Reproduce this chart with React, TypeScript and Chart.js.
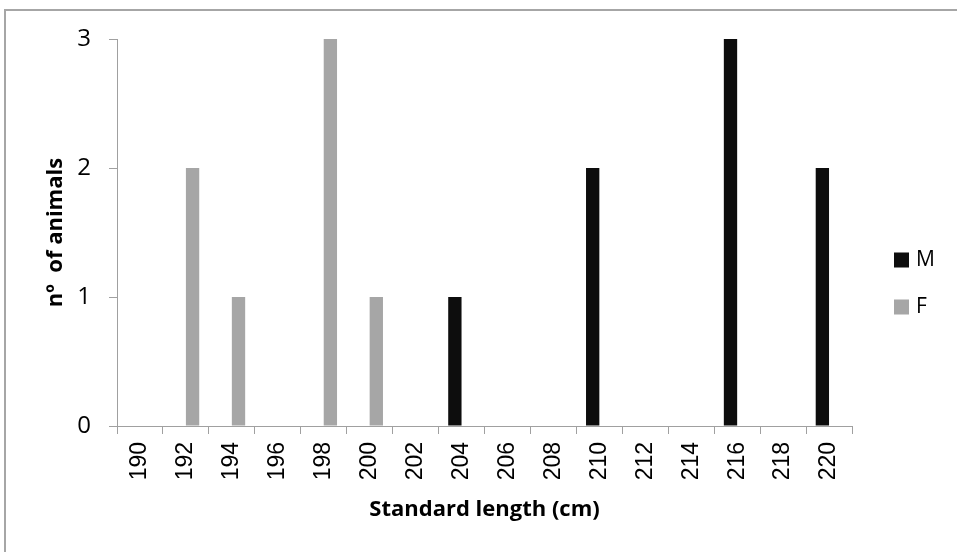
import React, { useEffect, useRef } from "react";
import { Chart, registerables } from "chart.js";

Chart.register(...registerables);

const categories = ["190", "192", "194", "196", "198", "200", "202", "204", "206", "208", "210", "212", "214", "216", "218", "220"];
const maleCounts = [0, 0, 0, 0, 0, 0, 0, 1, 0, 0, 2, 0, 0, 3, 0, 2];
const femaleCounts = [0, 2, 1, 0, 3, 1, 0, 0, 0, 0, 0, 0, 0, 0, 0, 0];
const seriesLabels = ["M", "F"];
const seriesColors = ["#0d0d0d", "#a6a6a6"];
const yTitle = "nº  of animals";
const xTitle = "Standard length (cm)";

const axisColor = "#a0a0a0";
const uiFont = "'Open Sans'";

const legendPlugin = {
  id: "sideLegend",
  afterDraw(chart: any) {
    const { ctx, chartArea } = chart;
    const mid = (chartArea.top + chartArea.bottom) / 2 + 51;
    const gap = 47;
    ctx.save();
    chart.data.datasets.forEach((ds: any, i: number) => {
      const cy = mid + (i - 0.5) * gap;
      const x = chartArea.right + 42;
      ctx.fillStyle = ds.backgroundColor;
      ctx.fillRect(x, cy - 7.5, 15, 15);
      ctx.fillStyle = "#000";
      ctx.font = `21px ${uiFont}`;
      ctx.textBaseline = "middle";
      ctx.textAlign = "left";
      ctx.fillText(ds.label, x + 22, cy);
    });
    ctx.restore();
  },
};

export default function App() {
  const ref = useRef<HTMLCanvasElement>(null);
  useEffect(() => {
    if (!ref.current) return;
    const chart = new Chart(ref.current, {
      type: "bar",
      data: {
        labels: categories,
        datasets: [
          { label: seriesLabels[0], data: maleCounts, backgroundColor: seriesColors[0], categoryPercentage: 0.58, barPercentage: 1 },
          { label: seriesLabels[1], data: femaleCounts, backgroundColor: seriesColors[1], categoryPercentage: 0.58, barPercentage: 1 },
        ],
      },
      options: {
        responsive: false,
        animation: false,
        devicePixelRatio: 1,
        layout: { padding: { top: 39, right: 105, bottom: 0, left: 0 } },
        plugins: { legend: { display: false }, tooltip: { enabled: false } },
        scales: {
          x: {
            afterFit: (s: any) => { s.height = 126; },
            border: { display: true, color: axisColor, width: 1 },
            grid: { display: true, drawOnChartArea: false, drawTicks: true, tickLength: 8, color: axisColor, offset: true },
            ticks: { autoSkip: false, maxRotation: 90, minRotation: 90, padding: 8, color: "#000", font: { family: "'Liberation Sans'", size: 23 } },
            title: { display: true, text: xTitle, color: "#000", font: { family: uiFont, size: 22, weight: "bold" }, padding: { top: 0, bottom: 29 } },
          },
          y: {
            min: 0,
            max: 3,
            afterFit: (s: any) => { s.width = 117; },
            border: { display: true, color: axisColor, width: 1 },
            grid: { display: true, drawOnChartArea: false, drawTicks: true, tickLength: 8, color: axisColor },
            ticks: { stepSize: 1, padding: 18, color: "#000", font: { family: uiFont, size: 24 } },
            title: { display: true, text: yTitle, color: "#000", font: { family: uiFont, size: 22, weight: "bold" }, padding: { top: 43, bottom: 0 } },
          },
        },
      },
      plugins: [legendPlugin],
    });
    return () => chart.destroy();
  }, []);
  return (
    <>
      <div style={{ position: "fixed", left: 4, top: 9, width: 953, height: 543, borderTop: "2px solid #a6a6a6", borderLeft: "2px solid #a6a6a6", boxSizing: "border-box" }} />
      <canvas ref={ref} width={957} height={552} style={{ position: "fixed", left: 0, top: 0, width: 957, height: 552 }} />
    </>
  );
}
